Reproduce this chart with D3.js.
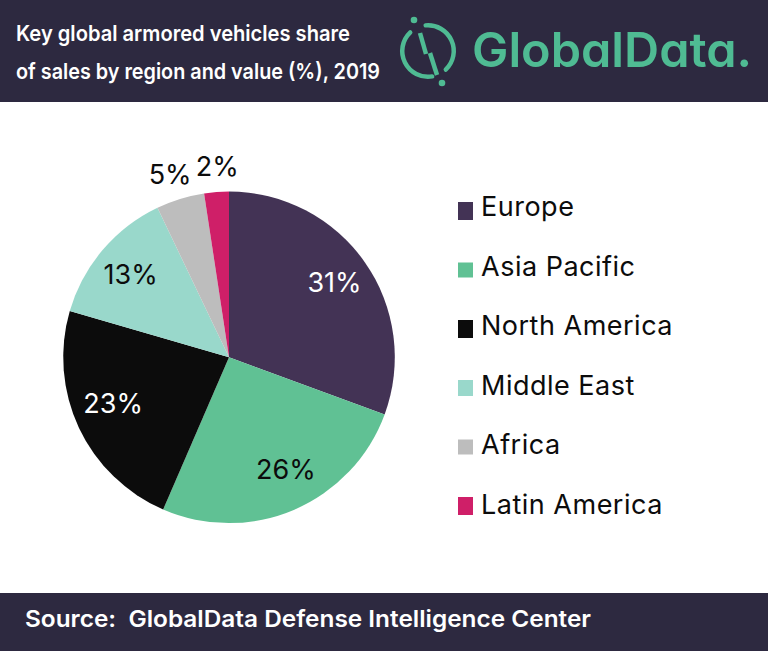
<!DOCTYPE html>
<html>
<head>
<meta charset="utf-8">
<script src="https://cdnjs.cloudflare.com/ajax/libs/d3/7.8.5/d3.min.js"></script>
<style>
  html, body { margin: 0; padding: 0; background: #fff; }
  svg { display: block; }
  text { white-space: pre; }
</style>
</head>
<body>
<div id="chart"></div>
<script>
// Data
const regions = ['Europe', 'Asia Pacific', 'North America', 'Middle East', 'Africa', 'Latin America']
const shares = [30.6, 25.9, 23.0, 13.4, 4.7, 2.4] // slice sizes as measured, labels round them
const colors = ['#433355', '#60c194', '#0c0c0c', '#99d8cb', '#bdbdbd', '#cf1f68']
const labelColors = ['#fff', '#0c0c0c', '#fff', '#0c0c0c', '#0c0c0c', '#0c0c0c']
const titleLines = ['Key global armored vehicles share', 'of sales by region and value (%), 2019']
const sourceText = 'Source:  GlobalData Defense Intelligence Center'

// Dimensions
const dimensions = { width: 768, height: 651, radius: 165.8 }
const bandColor = '#2d2940'
const logoColor = '#4fbb93'
const font = 'Inter, "Noto Sans", sans-serif'

const svg = d3.select('#chart')
  .append('svg')
  .attr('width', dimensions.width)
  .attr('height', dimensions.height)
  .style('font-family', font)

// Header and footer bands
svg.append('rect').attr('x', 0).attr('y', 0).attr('width', 768).attr('height', 102).attr('fill', bandColor)
svg.append('rect').attr('x', 0).attr('y', 593).attr('width', 768).attr('height', 58).attr('fill', bandColor)

const titleWidths = [334, 364]
svg.selectAll('.title')
  .data(titleLines)
  .join('text')
  .attr('class', 'title')
  .attr('x', 16)
  .attr('y', (d, i) => 41 + i * 38)
  .attr('fill', '#fff')
  .attr('font-size', 22)
  .attr('font-weight', 600)
  .attr('textLength', (d, i) => titleWidths[i])
  .attr('lengthAdjust', 'spacingAndGlyphs')
  .text(d => d)

svg.append('text')
  .attr('x', 25)
  .attr('y', 627)
  .attr('fill', '#fff')
  .attr('font-size', 23)
  .attr('font-weight', 600)
  .attr('textLength', 566)
  .attr('lengthAdjust', 'spacingAndGlyphs')
  .text(sourceText)

// Logo
const logo = svg.append('g').attr('transform', 'translate(428, 51)')
const ring = d3.arc().innerRadius(23.5).outerRadius(28).cornerRadius(2)
const deg = Math.PI / 180
logo.append('path').attr('d', ring({ startAngle: -10 * deg, endAngle: 141 * deg })).attr('fill', logoColor)
logo.append('path').attr('d', ring({ startAngle: 166 * deg, endAngle: 321 * deg })).attr('fill', logoColor)
logo.append('circle').attr('cx', -14).attr('cy', -31).attr('r', 3.3).attr('fill', logoColor)
logo.append('circle').attr('cx', 14).attr('cy', 32).attr('r', 3.3).attr('fill', logoColor)
logo.append('line').attr('x1', -8).attr('y1', -18).attr('x2', -2).attr('y2', 3)
  .attr('stroke', logoColor).attr('stroke-width', 4.5)
logo.append('line').attr('x1', 2).attr('y1', 2).attr('x2', 9).attr('y2', 24)
  .attr('stroke', logoColor).attr('stroke-width', 4.5)

svg.append('text')
  .attr('x', 472)
  .attr('y', 67)
  .attr('fill', logoColor)
  .attr('font-size', 48)
  .attr('font-weight', 600)
  .attr('textLength', 280)
  .attr('lengthAdjust', 'spacingAndGlyphs')
  .style('font-feature-settings', '"cv11"')
  .text('GlobalData.')

// Pie
const pie = d3.pie().sort(null).value(d => d)
const arc = d3.arc().innerRadius(0).outerRadius(dimensions.radius)
const arcs = pie(shares)

const labelRadii = [125, 125, 125, 125, 190, 190]
const labelNudges = [[3, -3], [7.5, -3], [-2.7, -7], [-3, -2], [-3, -1.7], [2.6, -1.8]]

const ctr = svg.append('g').attr('transform', 'translate(229, 357.3)')

ctr.selectAll('path')
  .data(arcs)
  .join('path')
  .attr('d', arc)
  .attr('fill', (d, i) => colors[i])

ctr.selectAll('text')
  .data(arcs)
  .join('text')
  .attr('transform', (d, i) => {
    const r = labelRadii[i]
    const [x, y] = d3.arc().innerRadius(r).outerRadius(r).centroid(d)
    return `translate(${x + labelNudges[i][0]}, ${y + labelNudges[i][1]})`
  })
  .attr('text-anchor', 'middle')
  .attr('dy', '0.36em')
  .attr('font-size', 27)
  .attr('fill', (d, i) => labelColors[i])
  .text(d => `${Math.round(d.data)}%`)

// Legend
const swatchY = d3.scalePoint().domain(regions).range([211, 506])
const legendTextY = d3.scalePoint().domain(regions).range([216, 514])
const swatchHeights = [18, 15, 18, 16, 15, 18]

svg.selectAll('.swatch')
  .data(regions)
  .join('rect')
  .attr('class', 'swatch')
  .attr('x', 458)
  .attr('y', (d, i) => swatchY(d) - swatchHeights[i] / 2)
  .attr('width', 15)
  .attr('height', (d, i) => swatchHeights[i])
  .attr('fill', (d, i) => colors[i])

svg.selectAll('.legend')
  .data(regions)
  .join('text')
  .attr('class', 'legend')
  .attr('x', 481)
  .attr('y', d => legendTextY(d))
  .attr('font-size', 27)
  .attr('letter-spacing', 0.5)
  .attr('fill', '#0c0c0c')
  .text(d => d)
</script>
</body>
</html>
